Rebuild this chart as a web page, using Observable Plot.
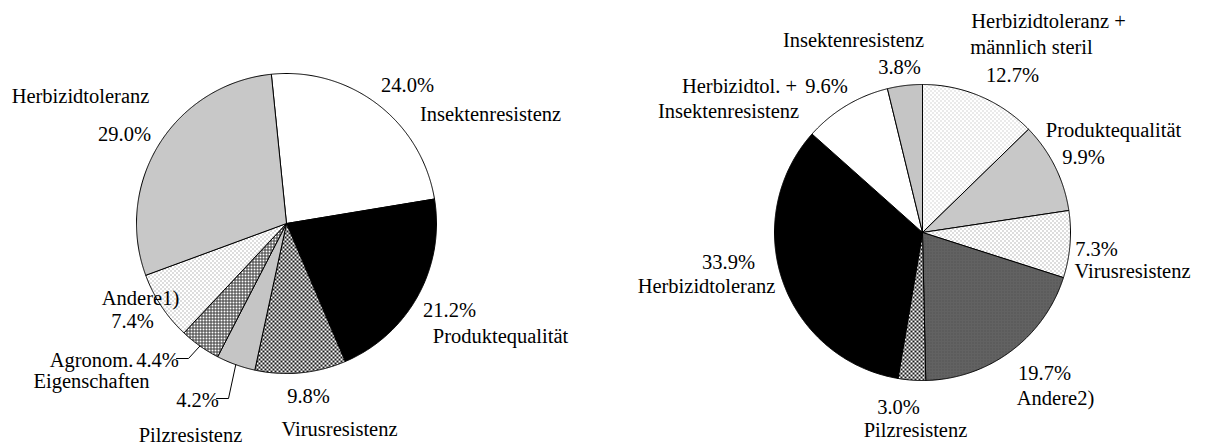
<!DOCTYPE html>
<html>
<head>
<meta charset="utf-8">
<script src="https://cdn.jsdelivr.net/npm/d3@7"></script>
<script src="https://cdn.jsdelivr.net/npm/@observablehq/plot@0.6"></script>
<style>
  html, body { margin: 0; padding: 0; background: #fff; }
  #chart svg { display: block; }
  #chart svg text { font-family: "Liberation Serif", "Times New Roman", Times, serif; }
</style>
</head>
<body>
<div id="chart"></div>
<script>
// ---------- data: left pie ----------
const leftCategories = ["Insektenresistenz", "Produktequalität", "Virusresistenz", "Pilzresistenz", "Agronom.|Eigenschaften", "Andere1)", "Herbizidtoleranz"];
const leftValues = [24.0, 21.2, 9.8, 4.2, 4.4, 7.4, 29.0];
const leftPercentLabels = ["24.0%", "21.2%", "9.8%", "4.2%", "4.4%", "7.4%", "29.0%"];
const leftPatterns = ["white", "black", "checker", "vlines", "grid", "dots", "hlines"];

// ---------- data: right pie ----------
const rightCategories = ["Herbizidtoleranz +|männlich steril", "Produktequalität", "Virusresistenz", "Andere2)", "Pilzresistenz", "Herbizidtoleranz", "Herbizidtol. +|Insektenresistenz", "Insektenresistenz"];
const rightValues = [12.7, 9.9, 7.3, 19.7, 3.0, 33.9, 9.6, 3.8];
const rightPercentLabels = ["12.7%", "9.9%", "7.3%", "19.7%", "3.0%", "33.9%", "9.6%", "3.8%"];
const rightPatterns = ["dotsLight", "hlines", "dots", "darkgray", "checker", "black", "white", "vlines"];

// ---------- layout (not data) ----------
const W = 1207, H = 445;
const pies = [
  {key: "L", cats: leftCategories, vals: leftValues, pcts: leftPercentLabels, pats: leftPatterns,
   cx: 286, cy: 223, r: 150, start: -5.8},
  {key: "R", cats: rightCategories, vals: rightValues, pcts: rightPercentLabels, pats: rightPatterns,
   cx: 922, cy: 232, r: 148, start: 0}
];
// label offsets relative to pie centre: [name line offsets...], pct offset
const labelLayout = {
  L: [
    {name: [[204, -109]], pct: [121, -138]},
    {name: [[214, 113]], pct: [163, 87]},
    {name: [[53, 206]], pct: [22, 173]},
    {name: [[-96, 212]], pct: [-89, 177], leader: true},
    {name: [[-195, 137], [-195, 158]], pct: [-129, 137], leader: true},
    {name: [[-146, 75]], pct: [-154, 98]},
    {name: [[-206, -127]], pct: [-162, -89]}
  ],
  R: [
    {name: [[126, -211], [109, -185]], pct: [90, -157]},
    {name: [[191, -102]], pct: [161, -75]},
    {name: [[210, 39]], pct: [174, 17]},
    {name: [[133, 166]], pct: [122, 141]},
    {name: [[-7, 198]], pct: [-24, 175]},
    {name: [[-216, 54]], pct: [-194, 30]},
    {name: [[-183, -146], [-194, -121]], pct: [-96, -146]},
    {name: [[-69, -192]], pct: [-23, -165]}
  ]
};
const fontSize = 20.5;
const toRad = Math.PI / 180;

// ---------- build geometry from the values ----------
const slicePoints = [];
const texts = [];
const leaders = [];
for (const p of pies) {
  const arcs = d3.pie().sort(null).startAngle(p.start * toRad).endAngle(p.start * toRad + 2 * Math.PI)(p.vals);
  const pt = (a, rr) => [p.cx + rr * Math.sin(a), p.cy - rr * Math.cos(a)];
  arcs.forEach((arc, i) => {
    const id = p.key + i;
    const fill = p.pats[i] === "white" ? "#ffffff" : p.pats[i] === "black" ? "#000000" : `url(#pat-${p.pats[i]})`;
    const n = Math.max(2, Math.ceil((arc.endAngle - arc.startAngle) / (0.4 * toRad)));
    slicePoints.push({id, fill, x: p.cx, y: p.cy});
    for (let k = 0; k <= n; k++) {
      const a = arc.startAngle + (arc.endAngle - arc.startAngle) * k / n;
      const [x, y] = pt(a, p.r);
      slicePoints.push({id, fill, x, y});
    }
    slicePoints.push({id, fill, x: p.cx, y: p.cy});
    const lay = labelLayout[p.key][i];
    p.cats[i].split("|").forEach((line, j) => {
      const [dx, dy] = lay.name[j];
      texts.push({text: line, x: p.cx + dx, y: p.cy + dy});
    });
    texts.push({text: p.pcts[i], x: p.cx + lay.pct[0], y: p.cy + lay.pct[1]});
    if (lay.leader) {
      const mid = (arc.startAngle + arc.endAngle) / 2;
      const [ex, ey] = pt(mid, p.r);
      const w = p.pcts[i].length * fontSize * 0.5 * 0.83;
      const sx = p.cx + lay.pct[0] + w / 2 + 2, sy = p.cy + lay.pct[1] - 2;
      leaders.push({id: id, x: sx, y: sy}, {id: id, x: sx + 12, y: sy}, {id: id, x: ex, y: ey});
    }
  });
}

const chart = Plot.plot({
  width: W, height: H, margin: 0,
  x: {domain: [0, W], range: [0, W], axis: null},
  y: {domain: [0, H], range: [0, H], axis: null},
  color: {type: "identity"},
  style: {background: "#fff", fontFamily: "'Liberation Serif', 'Times New Roman', serif"},
  marks: [
    Plot.line(slicePoints, {x: "x", y: "y", z: "id", fill: "fill", stroke: "#000", strokeWidth: 1, strokeLinejoin: "round", curve: "linear"}),
    Plot.line(leaders, {x: "x", y: "y", z: "id", stroke: "#000", strokeWidth: 1}),
    Plot.text(texts, {x: "x", y: "y", text: "text", fontSize: fontSize, fontFamily: "Liberation Serif", fill: "#000"})
  ]
});

const defs = `
<defs>
  <pattern id="pat-hlines" width="4" height="2" patternUnits="userSpaceOnUse">
    <rect width="4" height="2" fill="#f6f6f6"/><rect width="4" height="1" fill="#9a9a9a"/>
  </pattern>
  <pattern id="pat-vlines" width="2" height="4" patternUnits="userSpaceOnUse">
    <rect width="2" height="4" fill="#f6f6f6"/><rect width="1" height="4" fill="#949494"/>
  </pattern>
  <pattern id="pat-checker" width="4" height="4" patternUnits="userSpaceOnUse">
    <rect width="4" height="4" fill="#ffffff"/><rect width="2" height="2" fill="#1a1a1a"/><rect x="2" y="2" width="2" height="2" fill="#1a1a1a"/>
  </pattern>
  <pattern id="pat-grid" width="3" height="3" patternUnits="userSpaceOnUse">
    <rect width="3" height="3" fill="#ffffff"/><rect width="3" height="1" fill="#3a3a3a"/><rect width="1" height="3" fill="#3a3a3a"/>
  </pattern>
  <pattern id="pat-dots" width="4" height="4" patternUnits="userSpaceOnUse">
    <rect width="4" height="4" fill="#ffffff"/><rect width="1" height="1" fill="#777"/><rect x="2" y="2" width="1" height="1" fill="#777"/>
  </pattern>
  <pattern id="pat-dotsLight" width="4" height="4" patternUnits="userSpaceOnUse">
    <rect width="4" height="4" fill="#ffffff"/><rect width="1" height="1" fill="#aaa"/><rect x="2" y="2" width="1" height="1" fill="#aaa"/>
  </pattern>
  <pattern id="pat-darkgray" width="3" height="3" patternUnits="userSpaceOnUse">
    <rect width="3" height="3" fill="#626262"/><rect width="1" height="1" fill="#4a4a4a"/>
  </pattern>
</defs>`;
chart.insertAdjacentHTML("afterbegin", defs);
document.getElementById("chart").appendChild(chart);
</script>
</body>
</html>
